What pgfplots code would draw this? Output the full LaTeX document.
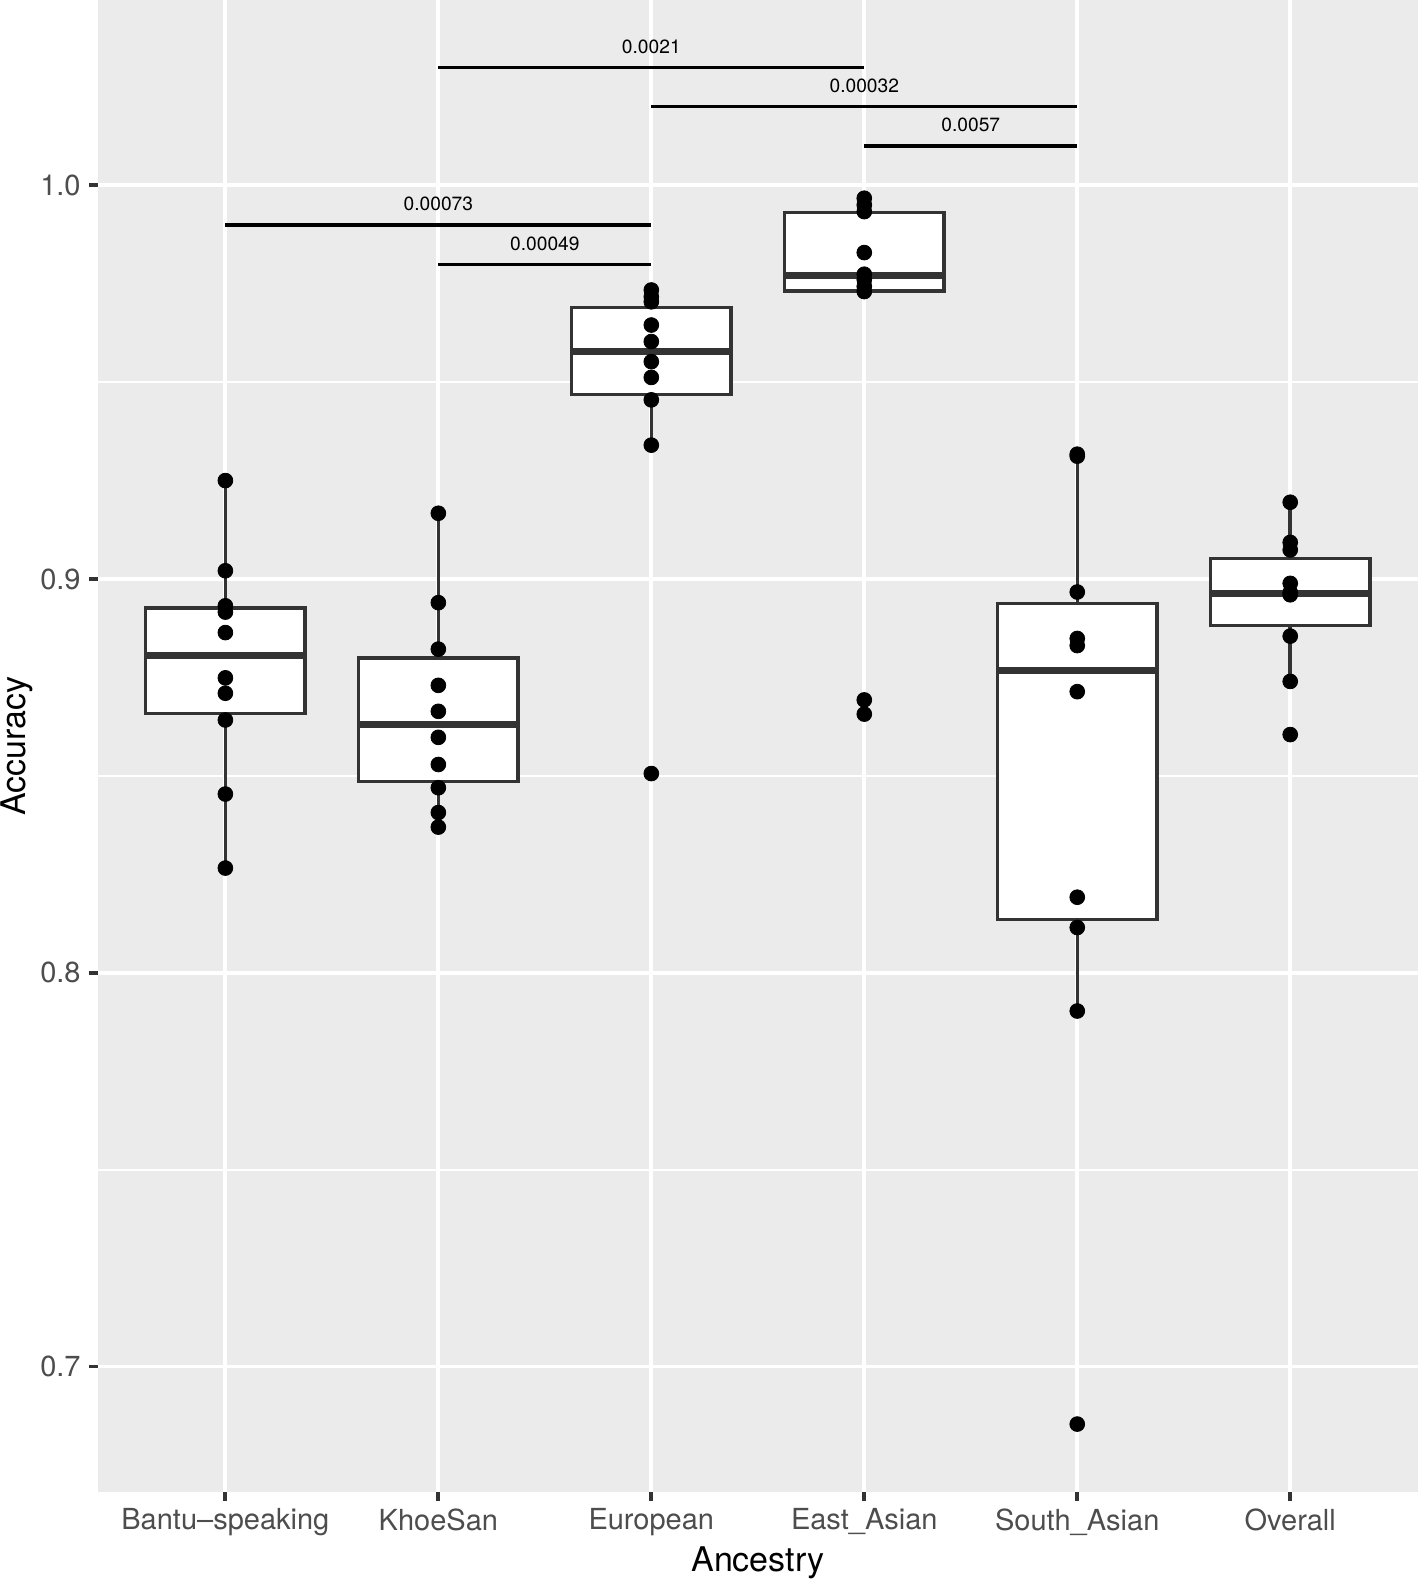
\documentclass[border=0pt]{standalone}
\usepackage{fontspec}
\setmainfont{TeX Gyre Heros}
\usepackage{pgfplots}
\usepackage{pgfplotstable}
\pgfplotsset{compat=1.18}
\usepgfplotslibrary{statistics}
\definecolor{ggbg}{HTML}{EBEBEB}
\definecolor{gray20}{HTML}{333333}
\definecolor{gray30}{HTML}{4D4D4D}

\pgfplotstableread{
x y
0 0.9250
0 0.9021
0 0.8932
0 0.8916
0 0.8864
0 0.8749
0 0.8710
0 0.8642
0 0.8454
0 0.8266
1 0.9167
1 0.8940
1 0.8822
1 0.8730
1 0.8664
1 0.8598
1 0.8529
1 0.8470
1 0.8407
1 0.8370
2 0.9734
2 0.9717
2 0.9704
2 0.9645
2 0.9603
2 0.9552
2 0.9512
2 0.9455
2 0.9340
2 0.8506
3 0.9967
3 0.9950
3 0.9933
3 0.9829
3 0.9774
3 0.9760
3 0.9743
3 0.9730
3 0.8693
3 0.8657
4 0.9317
4 0.9312
4 0.8967
4 0.8849
4 0.8831
4 0.8714
4 0.8192
4 0.8115
4 0.7903
4 0.6854
5 0.9195
5 0.9093
5 0.9074
5 0.8989
5 0.8966
5 0.8960
5 0.8855
5 0.8740
5 0.8605
}\pts

\pgfplotsset{ggbox/.style={draw=gray20, fill=white, line width=1.75pt,
  boxplot/draw direction=y,
  boxplot/box extend=0.75, boxplot/whisker extend=0,
  boxplot/every median/.style={line width=3.5pt}}}

\begin{document}
\begin{tikzpicture}
\begin{axis}[
  at={(0,0)}, anchor=south west,
  scale only axis, width=660.2pt, height=745.85pt,
  xmin=-0.6, xmax=5.6, ymin=0.66823, ymax=1.04705,
  axis background/.style={fill=ggbg},
  axis line style={draw=none},
  xtick={0,1,2,3,4,5},
  xticklabels={Bantu–speaking,KhoeSan,European,East\_Asian,South\_Asian,Overall},
  ytick={0.7,0.8,0.9,1.0},
  yticklabels={0.7,0.8,0.9,1.0},
  minor ytick={0.75,0.85,0.95},
  grid=both,
  major grid style={white, line width=1.9pt},
  minor grid style={white, line width=1pt},
  tick align=outside,
  tick pos=left,
  major tick length=4.4pt,
  minor tick length=0pt,
  tick style={gray20, line width=1.9pt},
  ticklabel style={font=\fontsize{14.5}{16}\selectfont, text=gray30, inner sep=0pt},
  xticklabel style={anchor=north, yshift=-3.9pt},
  yticklabel style={anchor=east, xshift=-3.9pt},
  xlabel={Ancestry}, ylabel={Accuracy},
  xlabel style={at={(axis description cs:0.5,-0.03687)}, anchor=north, inner sep=0pt, font=\fontsize{17}{20}\selectfont, text=black},
  ylabel style={at={(axis description cs:-0.0735,0.5)}, anchor=north, inner sep=0pt, font=\fontsize{17}{20}\selectfont, text=black},
  clip=false,
]
\addplot[ggbox, boxplot prepared={draw position=0, lower whisker=0.8266, lower quartile=0.8659, median=0.8806, upper quartile=0.8927, upper whisker=0.9250}] coordinates {};
\addplot[ggbox, boxplot prepared={draw position=1, lower whisker=0.8370, lower quartile=0.8486, median=0.8631, upper quartile=0.8799, upper whisker=0.9167}] coordinates {};
\addplot[ggbox, boxplot prepared={draw position=2, lower whisker=0.9340, lower quartile=0.9468, median=0.9577, upper quartile=0.9690, upper whisker=0.9734}] coordinates {};
\addplot[ggbox, boxplot prepared={draw position=3, lower whisker=0.9730, lower quartile=0.9732, median=0.9772, upper quartile=0.9931, upper whisker=0.9967}] coordinates {};
\addplot[ggbox, boxplot prepared={draw position=4, lower whisker=0.7903, lower quartile=0.8135, median=0.8767, upper quartile=0.8938, upper whisker=0.9317}] coordinates {};
\addplot[ggbox, boxplot prepared={draw position=5, lower whisker=0.8740, lower quartile=0.8882, median=0.8964, upper quartile=0.9052, upper whisker=0.9195}] coordinates {};

\addplot[only marks, mark=*, mark size=3.7pt, black] table[x=x, y=y] {\pts};

\addplot[black, line width=1.85pt] coordinates {(1,1.0299) (3,1.0299)};
\addplot[black, line width=1.85pt] coordinates {(2,1.0200) (4,1.0200)};
\addplot[black, line width=1.85pt] coordinates {(3,1.0100) (4,1.0100)};
\addplot[black, line width=1.85pt] coordinates {(0,0.9899) (2,0.9899)};
\addplot[black, line width=1.85pt] coordinates {(1,0.9799) (2,0.9799)};

\node[anchor=base, inner sep=0pt, font=\fontsize{9.6}{11}\selectfont] at (axis cs:2,1.0335) {0.0021};
\node[anchor=base, inner sep=0pt, font=\fontsize{9.6}{11}\selectfont] at (axis cs:3,1.0236) {0.00032};
\node[anchor=base, inner sep=0pt, font=\fontsize{9.6}{11}\selectfont] at (axis cs:3.5,1.0136) {0.0057};
\node[anchor=base, inner sep=0pt, font=\fontsize{9.6}{11}\selectfont] at (axis cs:1,0.9935) {0.00073};
\node[anchor=base, inner sep=0pt, font=\fontsize{9.6}{11}\selectfont] at (axis cs:1.5,0.9835) {0.00049};
\end{axis}
\pgfresetboundingbox
\path (-48.8pt,-43.65pt) rectangle (660.2pt,745.85pt);
\end{tikzpicture}
\end{document}
